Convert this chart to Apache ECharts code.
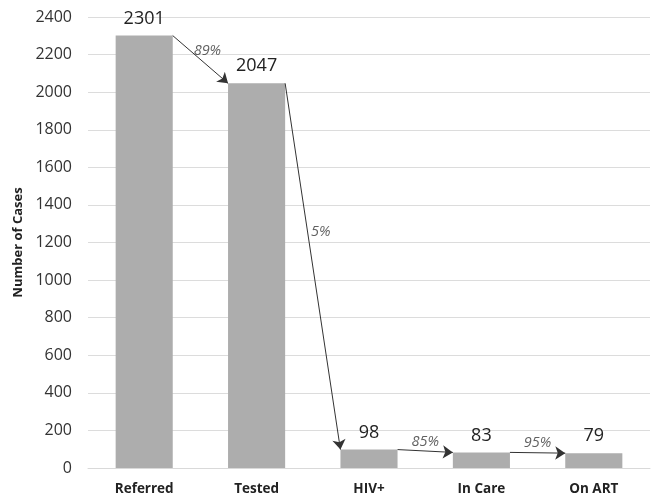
<!DOCTYPE html>
<html>
<head>
<meta charset="utf-8">
<script src="https://cdn.jsdelivr.net/npm/echarts@6/dist/echarts.min.js"></script>
<style>
  html, body { margin: 0; padding: 0; background: #ffffff; }
  #chart { width: 658px; height: 504px; }
</style>
</head>
<body>
<div id="chart"></div>
<script>
// Care cascade: stages and the number of cases reaching each one
const categories = ['Referred', 'Tested', 'HIV+', 'In Care', 'On ART'];
const cases = [2301, 2047, 98, 83, 79];
// Share retained from one stage to the next
const stepPercents = ['89%', '5%', '85%', '95%'];
// Value axis range
const yMin = 0;
const yMax = 2400;
const yStep = 200;

// Half of the bar width, as a fraction of one category slot
const BAR_HALF = 0.254;
// Per-label nudges for the step percentages (pixels)
const pctOffsets = [[7, -9], [8, -35], [0, -9], [0, -10]];

const arrowData = [];
const pctData = [];
for (let i = 0; i < cases.length - 1; i++) {
  const x0 = i + BAR_HALF, y0 = cases[i];
  const x1 = i + 1 - BAR_HALF, y1 = cases[i + 1];
  arrowData.push({ coords: [[x0, y0], [x1, y1]] });
  pctData.push({
    value: [(x0 + x1) / 2, (y0 + y1) / 2],
    name: stepPercents[i],
    label: { offset: pctOffsets[i] }
  });
}

const FONT = '"Open Sans", Lato, sans-serif';
const chart = echarts.init(document.getElementById('chart'), null, { renderer: 'canvas' });
chart.setOption({
  animation: false,
  backgroundColor: '#ffffff',
  grid: { left: 88, right: 8, top: 17, bottom: 36, containLabel: false },
  xAxis: [
    {
      type: 'category',
      data: categories,
      axisLine: { show: true, lineStyle: { color: '#d9d9d9', width: 1 } },
      axisTick: { show: false },
      axisLabel: { color: '#222222', fontFamily: FONT, fontSize: 13.5, fontWeight: 'bold', margin: 14 }
    },
    {
      type: 'value',
      min: -0.5,
      max: categories.length - 0.5,
      show: false
    }
  ],
  yAxis: {
    type: 'value',
    min: yMin,
    max: yMax,
    interval: yStep,
    name: 'Number of Cases',
    nameLocation: 'middle',
    nameGap: 59,
    nameTextStyle: { color: '#222222', fontFamily: FONT, fontSize: 13, fontWeight: 'bold' },
    axisLine: { show: false },
    axisTick: { show: false },
    axisLabel: {
      color: '#333333',
      fontFamily: FONT,
      fontSize: 16,
      margin: 16,
      formatter: v => String(v)
    },
    splitLine: { lineStyle: { color: '#dcdcdc', width: 1 } }
  },
  series: [
    {
      type: 'bar',
      data: cases,
      barWidth: '50.8%',
      itemStyle: { color: '#adadad' },
      label: {
        show: true,
        position: 'top',
        distance: 8,
        color: '#222222',
        fontFamily: FONT,
        fontSize: 18
      }
    },
    {
      type: 'lines',
      coordinateSystem: 'cartesian2d',
      xAxisIndex: 1,
      yAxisIndex: 0,
      data: arrowData,
      symbol: ['none', 'arrow'],
      symbolSize: [0, 10],
      lineStyle: { color: '#333333', width: 1, opacity: 1, curveness: 0 },
      silent: true,
      z: 5
    },
    {
      type: 'scatter',
      xAxisIndex: 1,
      yAxisIndex: 0,
      data: pctData,
      symbolSize: 0,
      silent: true,
      label: {
        show: true,
        position: 'inside',
        formatter: p => p.name,
        color: '#3a3a3a',
        fontFamily: FONT,
        fontStyle: 'italic',
        fontSize: 14.5
      },
      z: 6
    }
  ]
});
</script>
</body>
</html>
